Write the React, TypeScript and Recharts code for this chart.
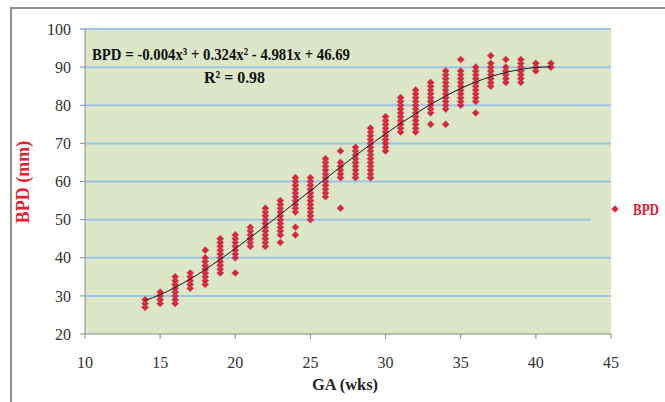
import React from "react";
import { ComposedChart, Scatter, XAxis, YAxis, CartesianGrid } from "recharts";

const gaWeeks = [14, 15, 16, 17, 18, 19, 20, 21, 22, 23, 24, 25, 26, 27, 28, 29, 30, 31, 32, 33, 34, 35, 36, 37, 38, 39, 40, 41];

const bpdByWeek = [
  [27, 28, 29],
  [28, 29, 30, 31],
  [28, 29, 30, 31, 32, 33, 34, 35],
  [32, 33, 34, 35, 36],
  [33, 34, 35, 36, 37, 38, 39, 40, 42],
  [36, 37, 38, 39, 40, 41, 42, 43, 44, 45],
  [36, 40, 41, 42, 43, 44, 45, 46],
  [43, 44, 45, 46, 47, 48],
  [43, 44, 45, 46, 47, 48, 49, 50, 51, 52, 53],
  [44, 46, 47, 48, 49, 50, 51, 52, 53, 54, 55],
  [46, 48, 52, 53, 54, 55, 56, 57, 58, 59, 60, 61],
  [50, 51, 52, 53, 54, 55, 56, 57, 58, 59, 60, 61],
  [56, 57, 58, 59, 60, 61, 62, 63, 64, 65, 66],
  [53, 61, 62, 63, 64, 65, 68],
  [61, 62, 63, 64, 65, 66, 67, 68, 69],
  [61, 62, 63, 64, 65, 66, 67, 68, 69, 70, 71, 72, 73, 74],
  [68, 69, 70, 71, 72, 73, 74, 75, 76, 77],
  [73, 74, 75, 76, 77, 78, 79, 80, 81, 82],
  [73, 74, 75, 76, 77, 78, 79, 80, 81, 82, 83, 84],
  [75, 78, 79, 80, 81, 82, 83, 84, 85, 86],
  [75, 79, 80, 81, 82, 83, 84, 85, 86, 87, 88, 89],
  [80, 81, 82, 83, 84, 85, 86, 87, 88, 89, 92],
  [78, 81, 82, 83, 84, 85, 86, 87, 88, 89, 90],
  [85, 86, 87, 88, 89, 90, 91, 93],
  [86, 87, 88, 89, 90, 92],
  [86, 87, 88, 89, 90, 91, 92],
  [89, 90, 91],
  [90, 91],
];

// trend line values at each week
const trendValues = [28.8, 30.3, 32.2, 34.4, 36.9, 39.6, 42.4, 45.3, 48.3, 51.4, 54.5, 57.6, 60.7, 63.8, 66.8, 69.7, 72.5, 75.2, 77.8, 80.2, 82.4, 84.4, 86.1, 87.5, 88.6, 89.4, 89.9, 90.1];

const xTicks = [10, 15, 20, 25, 30, 35, 40, 45];
const yTicks = [20, 30, 40, 50, 60, 70, 80, 90, 100];

const equationText = "BPD = -0.004x³ + 0.324x² - 4.981x + 46.69";
const r2Text = "R² = 0.98";

const points = gaWeeks.flatMap((w, i) => bpdByWeek[i].map((v) => ({ ga: w, bpd: v })));
const trend = gaWeeks.map((w, i) => ({ ga: w, bpd: trendValues[i] }));

const RED = "#e3202f";
const FONT = "'Liberation Serif', 'DejaVu Serif', serif";

const Diamond = (props: any) => {
  const { cx, cy } = props;
  if (cx == null || cy == null) return null;
  const r = 3.6;
  return (
    <path
      d={`M${cx},${cy - r} L${cx + r},${cy} L${cx},${cy + r} L${cx - r},${cy} Z`}
      fill={RED}
      stroke="#a07a98"
      strokeOpacity={0.7}
      strokeWidth={0.8}
    />
  );
};

const NoShape = () => null;

export default function App() {
  const tickStyle = { fontFamily: FONT, fontSize: 16, fill: "#333" };
  return (
    <div style={{ position: "absolute", left: 0, top: 0, width: 665, height: 402, background: "#fff", overflow: "hidden" }}>
      <div
        style={{
          position: "absolute",
          left: 10,
          top: 7,
          width: 660,
          height: 410,
          border: "2px solid #8f8f8f",
          boxSizing: "border-box",
        }}
      />
      <div style={{ position: "absolute", left: 0, top: 0 }}>
        <ComposedChart width={665} height={402} margin={{ top: 29, right: 54, bottom: 0, left: 0 }}>
          <CartesianGrid
            vertical={false}
            horizontal={true}
            fill="#dce7c7"
            fillOpacity={1}
            stroke="#9fc4e8"
            strokeWidth={2}
            horizontalValues={[30, 40, 50, 60, 70, 80, 90, 100]}
          />
          <XAxis
            type="number"
            dataKey="ga"
            domain={[10, 45]}
            ticks={xTicks}
            interval={0}
            height={68}
            stroke="#8a8a8a"
            tickSize={5}
            tickMargin={18}
            tick={tickStyle}
            allowDataOverflow
          />
          <YAxis
            type="number"
            dataKey="bpd"
            domain={[20, 100]}
            ticks={yTicks}
            interval={0}
            width={85}
            stroke="#8a8a8a"
            tickSize={5}
            tickMargin={9}
            tick={tickStyle}
            allowDataOverflow
          />
          <Scatter data={points} dataKey="bpd" shape={Diamond} isAnimationActive={false} />
          <Scatter
            data={trend}
            dataKey="bpd"
            shape={NoShape}
            line={{ stroke: "#1a1a1a", strokeWidth: 1 }}
            lineType="joint"
            lineJointType="monotoneX"
            isAnimationActive={false}
          />
        </ComposedChart>
      </div>
      <svg width={665} height={402} style={{ position: "absolute", left: 0, top: 0, pointerEvents: "none" }}>
        <rect x={591} y={216} width={20} height={7} fill="#dce7c7" />
        <text x={92} y={60} fontFamily={FONT} fontWeight="bold" fontSize={17} fill="#111" textLength={258} lengthAdjust="spacingAndGlyphs">
          {equationText}
        </text>
        <text x={204} y={83} fontFamily={FONT} fontWeight="bold" fontSize={17} fill="#111" textLength={61} lengthAdjust="spacingAndGlyphs">
          {r2Text}
        </text>
        <text
          x={0}
          y={0}
          transform="translate(29,182) rotate(-90)"
          textAnchor="middle"
          fontFamily={FONT}
          fontWeight="bold"
          fontSize={18}
          fill={RED}
        >
          BPD (mm)
        </text>
        <text x={312} y={390} fontFamily={FONT} fontWeight="bold" fontSize={17} fill="#222" textLength={66} lengthAdjust="spacingAndGlyphs">
          GA (wks)
        </text>
        <path d="M615,205.5 L618.5,209 L615,212.5 L611.5,209 Z" fill={RED} stroke="#a07a98" strokeOpacity={0.7} strokeWidth={0.8} />
        <text x={633} y={215} fontFamily={FONT} fontWeight="bold" fontSize={16} fill={RED} textLength={26} lengthAdjust="spacingAndGlyphs">
          BPD
        </text>
      </svg>
    </div>
  );
}
